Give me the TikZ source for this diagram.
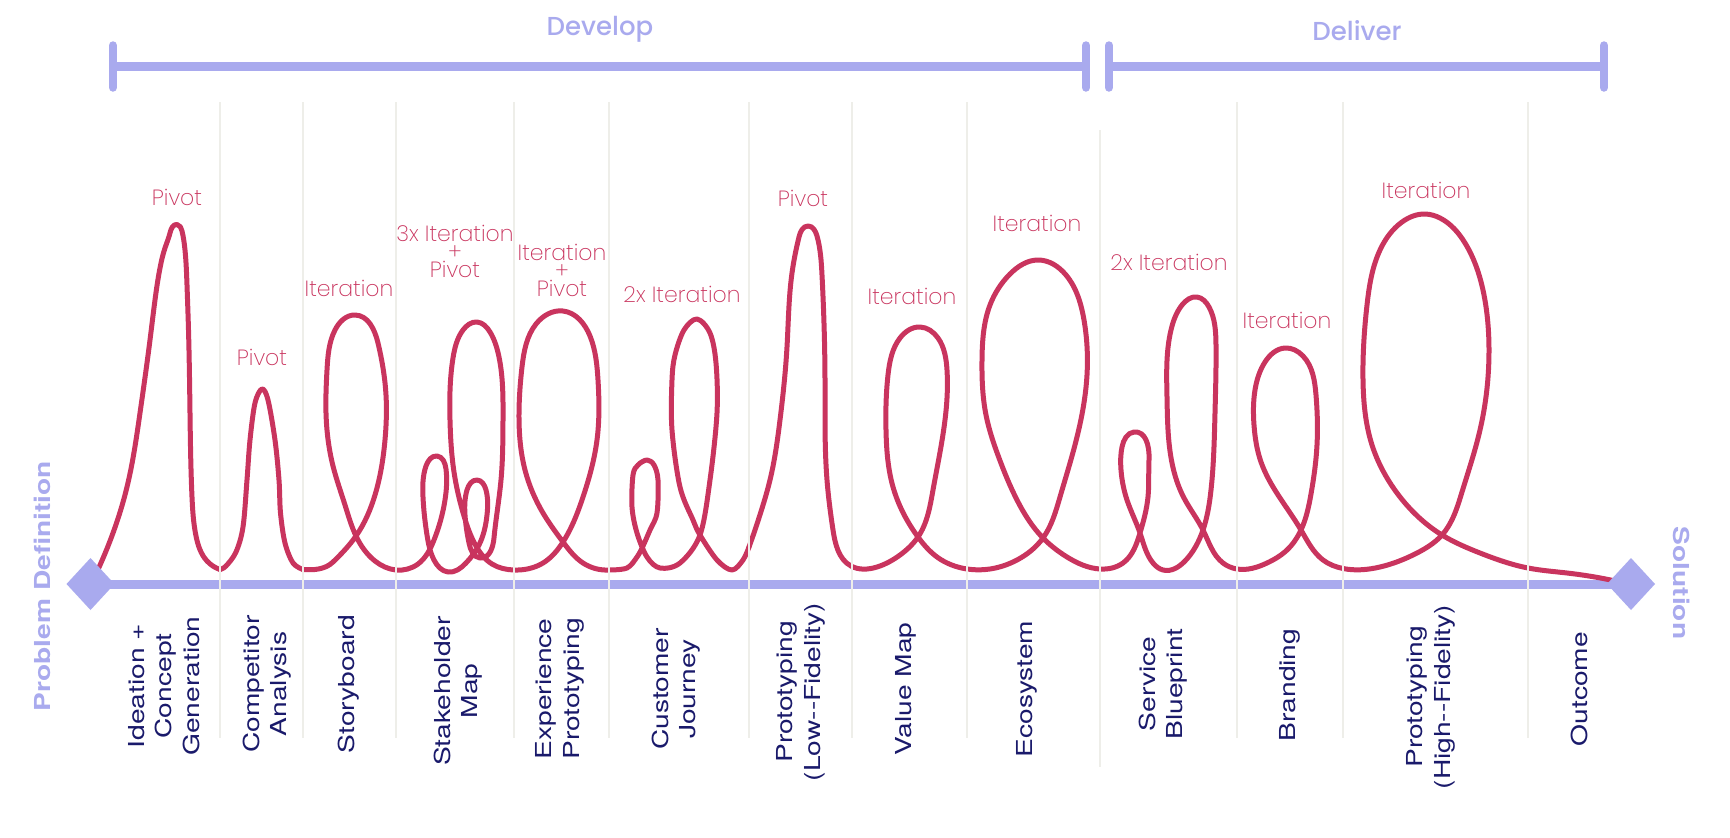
\documentclass[tikz,border=0pt]{standalone}
\usepackage{fontspec}
\usetikzlibrary{hobby}
\newfontfamily\notefont{Poppins ExtraLight}
\newfontfamily\phasefont{Poppins Medium}
\newfontfamily\stagefont[FakeStretch=1.28]{TeX Gyre Heros}
\definecolor{Lavender}{HTML}{A9AAEE}
\definecolor{Crimson}{HTML}{C9345E}
\definecolor{Navy}{HTML}{1A1A6B}
\definecolor{Rule}{HTML}{EEEEE9}

\begin{document}
\begin{tikzpicture}[x=1pt,y=-1pt,
  phase/.style={font=\phasefont\fontsize{26}{30}\selectfont,text=Lavender,inner sep=0pt,anchor=base},
  stage/.style={font=\stagefont\fontsize{22}{27.5}\selectfont,text=Navy,align=center,rotate=90,inner sep=0pt},
  note/.style={font=\notefont\fontsize{22}{18}\selectfont,text=Crimson,align=center,inner sep=0pt,anchor=south},
  pole/.style={font=\stagefont\bfseries\fontsize{22}{26}\selectfont,text=Lavender,inner sep=0pt},
  track/.style={draw=Lavender,line width=9pt},
  endcap/.style={draw=Lavender,line width=8.5pt,line cap=round},
  marker/.style={fill=Lavender},
  divider/.style={draw=Rule,line width=2.6pt},
  squiggle/.style={draw=Crimson,line width=5pt,line cap=round,line join=round}]
\useasboundingbox (0,0) rectangle (1730,838);
\fill[white] (0,0) rectangle (1730,838);

\node[phase](develop) at (600,35.5){Develop};
\node[phase](deliver) at (1357,40.7){Deliver};
\coordinate (devL) at (113,66.5);
\coordinate (devR) at (1086,66.5);
\coordinate (delL) at (1109,66.5);
\coordinate (delR) at (1604,66.5);
\draw[track](devL)--(devR);
\draw[track](delL)--(delR);
\foreach \c in {devL,devR,delL,delR}
  \draw[endcap]([yshift=-21pt]\c.center)--([yshift=21pt]\c.center);

\coordinate (start) at (90.5,584);
\coordinate (finish) at (1631,584);
\draw[track](start)--(finish);

\draw[squiggle,use Hobby shortcut] (94,578)..(113,533)..(127,487)..(140,413)..(150,340)..(155,300)..(160,268)..(165,248)..(170,233)..(177,224.5)
  ..(182,231)..(185,250)..(187,285)..(188.5,330)..(190,413)..(192,497)..(196,536)..(207,561)..(220,569.5);
\draw[squiggle] plot[smooth,tension=0.55] coordinates {
  (220,569.5) (226,566) (236,552) (243,527) (247,480) (250,440) (255,403) (262,389)
  (268,400) (275,440) (279,480) (280.5,513) (285,543) (293,563) (303,569.5)};
\draw[squiggle,use Hobby shortcut] (303,569.5)..(333,562)..(356,536)..(375,495)..(385,440)..(386,395)..(378,343)..(355,315)
  ..(335,330)..(327,370)..(326,413)..(333,466)..(345,505)..(356,536)..(375,561)..(396,570)
  ..(418,564)..(434,540)..(445,500)..(446,469)..(437,456)..(426,466)..(423,497)..(427,535)..(434,560)..(448,572)
  ..(466,563)..(479,545)..(487,515)..(486,490)..(477,480)..(467,490)..(465,515)..(469,543)..(480,558)
  ..(494,538)..(501,480)..(503,420)..(499,357)..(490,332)..(477,322)..(463,330)..(453,358)..(450,420)..(454,472)..(464,516)..(476,546)..(492,564)..(514,570)
  ..(543,563)..(563,542)..(583,497)..(597,440)..(598,380)..(590,336)..(563,311)..(536,324)..(522,367)..(519,413)..(525,470)..(543,513)..(563,542)..(583,563)..(609,570);
\draw[squiggle] plot[smooth,tension=0.55] coordinates {
  (609,570) (627,568) (637,557) (643,546) (650,530) (657,513) (658,480) (654,465) (647,460) (638,465) (633,475) (632,507) (637,533) (647,557) (660,568)
  (680,563) (700,535) (710,480) (717,413) (716,363) (710,333) (697,319) (684,330) (675,355) (672,380) (672,430) (680,487) (693,520) (700,535) (717,560) (732,570) (743,560) (749,547)};
\draw[squiggle,use Hobby shortcut] (749,547)..(757,524)..(770,480)..(780,420)..(787,347)..(792,273)..(799,237)..(808,226)..(817,236)..(822,275)..(825,380)..(827,480)..(833,530)..(851,566)
  ..(877,567)..(900,555)..(918,537)..(933,490)..(945,420)..(947,370)..(938,338)..(920,327)..(900,338)..(888,375)..(886,430)..(893,487)..(918,537)..(937,557)..(967,569)
  ..(990,569)..(1017,560)..(1043,538)..(1060,497)..(1077,437)..(1087,375)..(1084,320)..(1066,275)..(1038,260)..(1010,274)..(990,305)..(982,360)..(986,415)..(999,458)..(1017,500)..(1043,538)..(1067,557)..(1100,569)
  ..(1123,563)..(1140,533)..(1148,497)..(1149,460)..(1134,432)..(1122,447)..(1121,470)..(1127,500)..(1140,533)..(1153,563)..(1163,570)
  ..(1185,561)..(1203,530)..(1211,490)..(1215,413)..(1216,345)..(1209,307)..(1197,297)..(1182,305)..(1171,330)..(1167,397)..(1172,463)..(1184,498)..(1203,530)..(1223,563)..(1237,569)
  ..(1267,563)..(1287,550)..(1301,530)..(1311,494)..(1317,445)..(1316,395)..(1303,356)..(1285,348)..(1265,362)..(1255,390)..(1254,425)..(1261,462)..(1301,530)..(1323,560)..(1343,568.5)
  ..(1380,567)..(1417,553)..(1442,535)..(1462,492)..(1480,430)..(1489,350)..(1484,295)..(1465,243)..(1440,218)..(1425,214)..(1402,222)..(1380,250)..(1367,305)..(1363,380)..(1372,445)..(1397,493)..(1442,535)..(1480,553)..(1528,568)
  ..(1567,573)..(1620,582);

\fill[marker]([xshift=-24pt]start)--([yshift=-26pt]start)--([xshift=24pt]start)--([yshift=26pt]start)--cycle;
\fill[marker]([xshift=-24pt]finish)--([yshift=-26pt]finish)--([xshift=24pt]finish)--([yshift=26pt]finish)--cycle;

\foreach \x in {220,303,396,514,609,749,852,967,1237,1343,1528}
  \draw[divider](\x,102)--(\x,738);
\draw[divider](1100,130)--(1100,767);

\node[pole,rotate=90](problem) at (42.5,586){Problem Definition};
\node[pole,rotate=-90](solution) at (1682,583){Solution};

\node[note](pivotA) at (177,206){Pivot};
\node[note](pivotB) at (262,365.7){Pivot};
\node[note](iterStory) at (349,296.7){Iteration};
\node[note](iterStake) at (455,277.5){3x Iteration\\+\\Pivot};
\node[note](iterExp) at (562,297.3){Iteration\\+\\Pivot};
\node[note](iterJourney) at (682,303){2x Iteration};
\node[note](pivotLow) at (803,207.3){Pivot};
\node[note](iterValue) at (912,305){Iteration};
\node[note](iterEco) at (1037,232.3){Iteration};
\node[note](iterService) at (1169,270.7){2x Iteration};
\node[note](iterBrand) at (1287,329){Iteration};
\node[note](iterHigh) at (1426,199.3){Iteration};

\node[stage](ideation) at (164,686){Ideation +\\Concept\\Generation};
\node[stage](competitor) at (267,684){Competitor\\Analysis};
\node[stage](storyboard) at (349,684){Storyboard};
\node[stage](stakeholder) at (458,691){Stakeholder\\Map};
\node[stage](experience) at (560,689){Experience\\Prototyping};
\node[stage](journey) at (676,689){Customer\\Journey};
\node[stage](lowfi) at (801,692){Prototyping\\(Low--Fidelity)};
\node[stage](valuemap) at (906,689){Value Map};
\node[stage](ecosystem) at (1027,689){Ecosystem};
\node[stage](blueprint) at (1163,684){Service\\Blueprint};
\node[stage](branding) at (1290,685){Branding};
\node[stage](highfi) at (1431,697){Prototyping\\(High--Fidelity)};
\node[stage](outcome) at (1579,689){Outcome};
\end{tikzpicture}
\end{document}
